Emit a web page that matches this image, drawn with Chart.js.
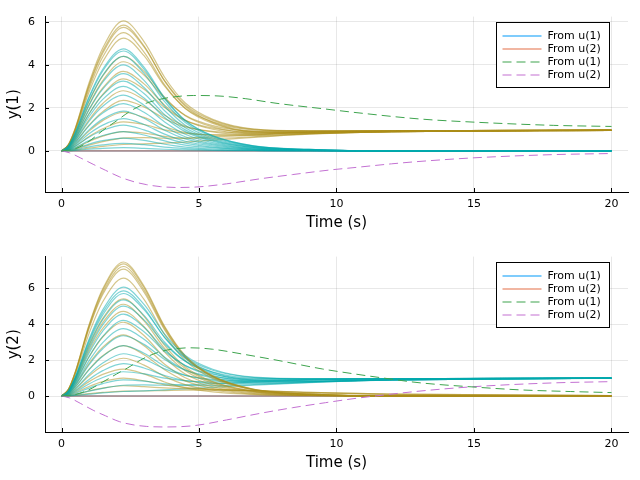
<!DOCTYPE html>
<html>
<head>
<meta charset="utf-8">
<script src="https://cdn.jsdelivr.net/npm/chart.js@4/dist/chart.umd.min.js"></script>
<style>
  html, body { margin: 0; padding: 0; background: #fff; }
  canvas { display: block; }
</style>
</head>
<body>
<canvas id="plotY1" width="640" height="240"></canvas>
<canvas id="plotY2" width="640" height="240"></canvas>
<script>
// sample times shared by all the uncertain step responses
const timeGrid = [0, 0.25, 0.5, 1, 1.5, 2.25, 3, 3.75, 4.5, 5.5, 7, 9, 12, 20];
const xTicks = [0, 5, 10, 15, 20];
const yTicks = [0, 2, 4, 6];
const legendLabels = ['From u(1)', 'From u(2)', 'From u(1)', 'From u(2)'];

// y(1), gold bundle (settles near 1)
const y1Gold = [
    [0, 0.3, 1.06, 3.16, 4.79, 6.05, 5.09, 3.43, 2.23, 1.47, 1.02, 0.94, 0.93, 0.97],
    [0, 0.29, 1.04, 3.07, 4.65, 5.85, 4.89, 3.25, 2.08, 1.33, 0.91, 0.87, 0.9, 0.96],
    [0, 0.28, 1.01, 3.0, 4.55, 5.75, 4.84, 3.27, 2.14, 1.42, 1.0, 0.93, 0.93, 0.97],
    [0, 0.27, 0.97, 2.88, 4.37, 5.5, 4.6, 3.07, 1.97, 1.28, 0.89, 0.86, 0.9, 0.96],
    [0, 0.26, 0.92, 2.73, 4.15, 5.25, 4.43, 3.01, 1.99, 1.35, 0.98, 0.93, 0.93, 0.97],
    [0, 0.22, 0.77, 2.3, 3.49, 4.4, 3.7, 2.5, 1.64, 1.12, 0.84, 0.84, 0.9, 0.96],
    [0, 0.2, 0.72, 2.15, 3.27, 4.15, 3.53, 2.44, 1.66, 1.18, 0.92, 0.91, 0.93, 0.97],
    [0, 0.18, 0.65, 1.93, 2.93, 3.7, 3.12, 2.13, 1.43, 1.01, 0.8, 0.83, 0.9, 0.96],
    [0, 0.16, 0.58, 1.73, 2.63, 3.35, 2.87, 2.02, 1.42, 1.06, 0.88, 0.9, 0.93, 0.97],
    [0, 0.14, 0.49, 1.45, 2.21, 2.8, 2.38, 1.66, 1.16, 0.88, 0.76, 0.82, 0.9, 0.96],
    [0, 0.11, 0.4, 1.2, 1.83, 2.35, 2.05, 1.5, 1.12, 0.91, 0.83, 0.88, 0.93, 0.97],
    [0, 0.09, 0.31, 0.92, 1.41, 1.8, 1.56, 1.14, 0.86, 0.73, 0.71, 0.81, 0.9, 0.96],
    [0, 0.06, 0.22, 0.67, 1.03, 1.35, 1.23, 0.98, 0.82, 0.76, 0.78, 0.87, 0.93, 0.97],
    [0, 0.04, 0.14, 0.44, 0.69, 0.9, 0.83, 0.68, 0.59, 0.59, 0.66, 0.79, 0.9, 0.96],
    [0, 0.02, 0.08, 0.27, 0.43, 0.6, 0.62, 0.59, 0.6, 0.65, 0.74, 0.86, 0.93, 0.97],
    [0, 0.01, 0.04, 0.13, 0.21, 0.3, 0.33, 0.36, 0.41, 0.5, 0.63, 0.78, 0.9, 0.96]
];

// y(1), teal bundle (decays to 0)
const y1Teal = [
    [0, 0.24, 0.86, 2.52, 3.8, 4.75, 3.9, 2.47, 1.43, 0.71, 0.24, 0.07, 0, 0],
    [0, 0.23, 0.84, 2.46, 3.72, 4.65, 3.81, 2.42, 1.4, 0.7, 0.23, 0.07, 0, 0],
    [0, 0.22, 0.79, 2.33, 3.52, 4.4, 3.61, 2.29, 1.32, 0.66, 0.22, 0.07, 0, 0],
    [0, 0.2, 0.72, 2.12, 3.2, 4.0, 3.28, 2.08, 1.2, 0.6, 0.2, 0.06, 0, 0],
    [0, 0.18, 0.65, 1.91, 2.88, 3.6, 2.95, 1.87, 1.08, 0.54, 0.18, 0.05, 0, 0],
    [0, 0.16, 0.59, 1.72, 2.6, 3.25, 2.67, 1.69, 0.98, 0.49, 0.16, 0.05, 0, 0],
    [0, 0.15, 0.54, 1.59, 2.4, 3.0, 2.46, 1.56, 0.9, 0.45, 0.15, 0.05, 0, 0],
    [0, 0.13, 0.47, 1.38, 2.08, 2.6, 2.13, 1.35, 0.78, 0.39, 0.13, 0.04, 0, 0],
    [0, 0.11, 0.4, 1.17, 1.76, 2.2, 1.8, 1.14, 0.66, 0.33, 0.11, 0.03, 0, 0],
    [0, 0.09, 0.33, 0.98, 1.48, 1.85, 1.52, 0.96, 0.56, 0.28, 0.09, 0.03, 0, 0],
    [0, 0.08, 0.27, 0.8, 1.2, 1.5, 1.23, 0.78, 0.45, 0.23, 0.08, 0.02, 0, 0],
    [0, 0.06, 0.22, 0.64, 0.96, 1.2, 0.98, 0.62, 0.36, 0.18, 0.06, 0.02, 0, 0],
    [0, 0.05, 0.16, 0.48, 0.72, 0.9, 0.74, 0.47, 0.27, 0.14, 0.05, 0.01, 0, 0],
    [0, 0.03, 0.11, 0.32, 0.48, 0.6, 0.49, 0.31, 0.18, 0.09, 0.03, 0.01, 0, 0],
    [0, 0.02, 0.06, 0.19, 0.28, 0.35, 0.29, 0.18, 0.11, 0.05, 0.02, 0, 0, 0],
    [0, 0.01, 0.03, 0.08, 0.12, 0.15, 0.12, 0.08, 0.05, 0.02, 0.01, 0, 0, 0]
];

// y(2), gold bundle (decays to 0)
const y2Gold = [
    [0, 0.37, 1.34, 3.95, 5.96, 7.45, 6.11, 3.87, 2.24, 1.12, 0.37, 0.11, 0, 0],
    [0, 0.37, 1.32, 3.9, 5.88, 7.35, 6.03, 3.82, 2.21, 1.1, 0.37, 0.11, 0, 0],
    [0, 0.36, 1.3, 3.82, 5.76, 7.2, 5.9, 3.74, 2.16, 1.08, 0.36, 0.11, 0, 0],
    [0, 0.35, 1.27, 3.74, 5.64, 7.05, 5.78, 3.67, 2.12, 1.06, 0.35, 0.11, 0, 0],
    [0, 0.33, 1.18, 3.47, 5.24, 6.55, 5.37, 3.41, 1.97, 0.98, 0.33, 0.1, 0, 0],
    [0, 0.27, 0.97, 2.86, 4.32, 5.4, 4.43, 2.81, 1.62, 0.81, 0.27, 0.08, 0, 0],
    [0, 0.26, 0.92, 2.7, 4.08, 5.1, 4.18, 2.65, 1.53, 0.77, 0.26, 0.08, 0, 0],
    [0, 0.24, 0.85, 2.49, 3.76, 4.7, 3.85, 2.44, 1.41, 0.71, 0.24, 0.07, 0, 0],
    [0, 0.21, 0.74, 2.17, 3.28, 4.1, 3.36, 2.13, 1.23, 0.62, 0.21, 0.06, 0, 0],
    [0, 0.17, 0.61, 1.8, 2.72, 3.4, 2.79, 1.77, 1.02, 0.51, 0.17, 0.05, 0, 0],
    [0, 0.14, 0.5, 1.48, 2.24, 2.8, 2.3, 1.46, 0.84, 0.42, 0.14, 0.04, 0, 0],
    [0, 0.11, 0.38, 1.11, 1.68, 2.1, 1.72, 1.09, 0.63, 0.32, 0.11, 0.03, 0, 0],
    [0, 0.08, 0.27, 0.8, 1.2, 1.5, 1.23, 0.78, 0.45, 0.23, 0.08, 0.02, 0, 0],
    [0, 0.05, 0.18, 0.53, 0.8, 1.0, 0.85, 0.62, 0.48, 0.38, 0.3, 0.18, 0.08, 0.02],
    [0, 0.03, 0.1, 0.29, 0.44, 0.57, 0.52, 0.45, 0.4, 0.36, 0.3, 0.2, 0.1, 0.03],
    [0, 0.01, 0.05, 0.13, 0.2, 0.27, 0.28, 0.3, 0.32, 0.33, 0.3, 0.2, 0.1, 0.03]
];

// y(2), teal bundle (settles near 1)
const y2Teal = [
    [0, 0.3, 1.06, 3.16, 4.79, 6.05, 5.09, 3.44, 2.25, 1.49, 1.05, 0.97, 0.96, 1.0],
    [0, 0.29, 1.04, 3.07, 4.65, 5.85, 4.89, 3.25, 2.08, 1.32, 0.89, 0.84, 0.9, 0.99],
    [0, 0.28, 1.0, 2.97, 4.51, 5.7, 4.8, 3.26, 2.15, 1.43, 1.03, 0.96, 0.96, 1.0],
    [0, 0.26, 0.95, 2.8, 4.25, 5.35, 4.48, 2.99, 1.93, 1.25, 0.86, 0.83, 0.9, 0.99],
    [0, 0.24, 0.87, 2.6, 3.95, 5.0, 4.23, 2.89, 1.94, 1.33, 0.99, 0.95, 0.96, 1.0],
    [0, 0.22, 0.8, 2.38, 3.61, 4.55, 3.82, 2.57, 1.69, 1.13, 0.82, 0.82, 0.9, 0.99],
    [0, 0.2, 0.73, 2.18, 3.31, 4.2, 3.57, 2.48, 1.7, 1.21, 0.95, 0.94, 0.96, 1.0],
    [0, 0.18, 0.66, 1.95, 2.97, 3.75, 3.16, 2.16, 1.45, 1.01, 0.78, 0.8, 0.9, 0.99],
    [0, 0.16, 0.58, 1.73, 2.63, 3.35, 2.87, 2.03, 1.44, 1.08, 0.91, 0.93, 0.96, 1.0],
    [0, 0.14, 0.49, 1.45, 2.21, 2.8, 2.38, 1.66, 1.16, 0.87, 0.74, 0.79, 0.9, 0.99],
    [0, 0.11, 0.4, 1.2, 1.83, 2.35, 2.05, 1.51, 1.14, 0.93, 0.86, 0.91, 0.96, 1.0],
    [0, 0.09, 0.31, 0.92, 1.41, 1.8, 1.56, 1.14, 0.86, 0.72, 0.69, 0.78, 0.9, 0.99],
    [0, 0.06, 0.22, 0.67, 1.03, 1.35, 1.23, 0.99, 0.84, 0.78, 0.81, 0.9, 0.96, 1.0],
    [0, 0.04, 0.14, 0.44, 0.69, 0.9, 0.83, 0.68, 0.59, 0.58, 0.64, 0.76, 0.9, 0.99],
    [0, 0.02, 0.08, 0.27, 0.43, 0.6, 0.62, 0.6, 0.62, 0.67, 0.77, 0.89, 0.96, 1.0],
    [0, 0.01, 0.03, 0.1, 0.17, 0.25, 0.29, 0.34, 0.4, 0.48, 0.61, 0.75, 0.9, 0.99]
];

// nominal responses (flat at zero)
const nominalTimes = [0, 20];
const nominalValues = [0, 0];

// dashed responses
const y1GreenTimes = [0, 0.5, 1, 1.5, 2, 2.5, 3, 3.5, 4, 4.8, 5.8, 6.7, 7.8, 9.6, 10.6, 13, 15, 17.9, 20];
const y1GreenValues = [0, 0.1, 0.45, 0.95, 1.4, 1.85, 2.18, 2.38, 2.5, 2.58, 2.55, 2.43, 2.22, 1.95, 1.8, 1.49, 1.34, 1.19, 1.14];
const y1PurpleTimes = [0, 0.3, 0.7, 1.15, 1.6, 2.1, 2.6, 3.1, 3.6, 4.2, 5, 6, 7.2, 8.4, 9.8, 10.6, 12, 13, 15, 17.9, 20];
const y1PurpleValues = [0, -0.09, -0.33, -0.62, -0.9, -1.2, -1.42, -1.57, -1.66, -1.7, -1.67, -1.53, -1.3, -1.1, -0.88, -0.78, -0.6, -0.49, -0.32, -0.17, -0.12];
const y2GreenTimes = [0, 0.5, 1, 1.5, 2, 2.4, 3, 3.5, 4, 4.7, 5.5, 6.7, 7.8, 9.5, 10.6, 11.8, 13, 15, 16.7, 18.5, 20];
const y2GreenValues = [0, 0.08, 0.35, 0.78, 1.22, 1.56, 2.1, 2.42, 2.6, 2.68, 2.6, 2.3, 2.0, 1.5, 1.24, 0.98, 0.74, 0.5, 0.34, 0.25, 0.19];
const y2PurpleTimes = [0, 0.3, 0.7, 1.15, 1.6, 2.1, 2.6, 3.1, 3.8, 4.8, 6, 7.2, 8.4, 9.6, 10.6, 11.8, 13, 15, 17.9, 20];
const y2PurpleValues = [0, -0.11, -0.42, -0.79, -1.1, -1.42, -1.6, -1.69, -1.72, -1.65, -1.33, -0.97, -0.65, -0.37, -0.15, 0.07, 0.27, 0.52, 0.73, 0.8];

const BLUE = '#009AFA';
const ORANGE = '#E36F47';
const GREEN = '#3EA44E';
const PURPLE = '#C371D2';
const GOLD = 'rgba(172, 142, 24, 0.5)';
const TEAL = 'rgba(0, 169, 173, 0.5)';
const DASH = [9, 5];

Chart.defaults.font.family = '"DejaVu Sans", sans-serif';
Chart.defaults.color = '#000';

function toPoints(times, values) {
    return times.map((t, i) => ({ x: t, y: values[i] }));
}

function lineSet(times, values, color, dashed, width) {
    return {
        data: toPoints(times, values),
        borderColor: color,
        borderWidth: width || 1,
        borderDash: dashed ? DASH : [],
        pointRadius: 0,
        fill: false,
        cubicInterpolationMode: 'monotone'
    };
}

// first dataset is painted last in Chart.js, so dashed go first, nominal last
function buildDatasets(goldRows, tealRows, greenT, greenV, purpleT, purpleV) {
    const sets = [
        lineSet(greenT, greenV, GREEN, true),
        lineSet(purpleT, purpleV, PURPLE, true)
    ];
    for (let i = 0; i < goldRows.length; i++) {
        sets.push(lineSet(timeGrid, tealRows[i], TEAL, false, 1.2));
        sets.push(lineSet(timeGrid, goldRows[i], GOLD, false, 1.2));
    }
    sets.push(lineSet(nominalTimes, nominalValues, ORANGE, false));
    sets.push(lineSet(nominalTimes, nominalValues, BLUE, false));
    return sets;
}

const decorPlugin = {
    id: 'decor',
    afterDraw(chart) {
        const { ctx, chartArea: a, scales: { x, y } } = chart;
        ctx.save();
        // inward tick marks
        ctx.strokeStyle = '#000';
        ctx.lineWidth = 1;
        ctx.beginPath();
        xTicks.forEach(v => {
            const px = Math.round(x.getPixelForValue(v)) + 0.5;
            ctx.moveTo(px, a.bottom);
            ctx.lineTo(px, a.bottom - 4);
        });
        yTicks.forEach(v => {
            const py = Math.round(y.getPixelForValue(v)) + 0.5;
            ctx.moveTo(a.left, py);
            ctx.lineTo(a.left + 4, py);
        });
        ctx.stroke();

        // legend box in the top right corner
        const w = 113, h = 65;
        const left = Math.round(a.right - 19 - w) + 0.5;
        const top = Math.round(a.top + 5) + 0.5;
        ctx.fillStyle = '#fff';
        ctx.fillRect(left, top, w, h);
        ctx.strokeRect(left, top, w, h);
        const colors = [BLUE, ORANGE, GREEN, PURPLE];
        ctx.font = '11px "DejaVu Sans", sans-serif';
        ctx.textBaseline = 'middle';
        ctx.textAlign = 'left';
        legendLabels.forEach((label, i) => {
            const ry = top + 13.5 + i * 13;
            ctx.strokeStyle = colors[i];
            ctx.lineWidth = 1.2;
            ctx.setLineDash(i >= 2 ? DASH : []);
            ctx.beginPath();
            ctx.moveTo(left + 6, ry);
            ctx.lineTo(left + 45, ry);
            ctx.stroke();
            ctx.setLineDash([]);
            ctx.fillStyle = '#000';
            ctx.fillText(label, left + 51, ry);
        });
        ctx.restore();
    }
};

function drawPlot(canvasId, yTitle, yMin, yMax, topPad, datasets) {
    const ctx = document.getElementById(canvasId).getContext('2d');
    new Chart(ctx, {
        type: 'line',
        data: { datasets: datasets },
        options: {
            responsive: false,
            animation: false,
            devicePixelRatio: 1,
            events: [],
            layout: { padding: { top: topPad, right: 12, left: 0, bottom: 0 } },
            plugins: { legend: { display: false }, tooltip: { enabled: false } },
            scales: {
                x: {
                    type: 'linear',
                    min: -0.6,
                    max: 20.6,
                    afterBuildTicks: scale => { scale.ticks = xTicks.map(v => ({ value: v })); },
                    afterFit: scale => { scale.height = 48; },
                    grid: { color: 'rgba(0,0,0,0.09)', lineWidth: 1, drawTicks: false },
                    border: { display: true, color: '#000', width: 1 },
                    ticks: { padding: 6, font: { size: 11 }, maxRotation: 0 },
                    title: { display: true, text: 'Time (s)', font: { size: 15 }, padding: { top: 0, bottom: 8 } }
                },
                y: {
                    type: 'linear',
                    min: yMin,
                    max: yMax,
                    afterBuildTicks: scale => { scale.ticks = yTicks.map(v => ({ value: v })); },
                    afterFit: scale => { scale.width = 45; },
                    grid: { color: 'rgba(0,0,0,0.09)', lineWidth: 1, drawTicks: false },
                    border: { display: true, color: '#000', width: 1 },
                    ticks: { padding: 10, font: { size: 11 } },
                    title: { display: true, text: yTitle, font: { size: 15 }, padding: { top: 5, bottom: 0 } }
                }
            }
        },
        plugins: [decorPlugin]
    });
}

document.addEventListener('DOMContentLoaded', () => {
    drawPlot('plotY1', 'y(1)', -1.91, 6.25, 12,
        buildDatasets(y1Gold, y1Teal, y1GreenTimes, y1GreenValues, y1PurpleTimes, y1PurpleValues));
    drawPlot('plotY2', 'y(2)', -2.0, 7.75, 11,
        buildDatasets(y2Gold, y2Teal, y2GreenTimes, y2GreenValues, y2PurpleTimes, y2PurpleValues));
});
</script>
</body>
</html>
